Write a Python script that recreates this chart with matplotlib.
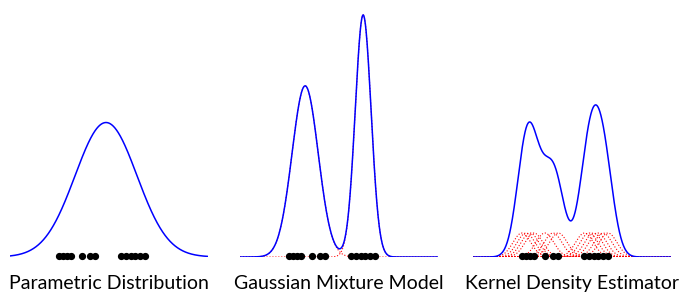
import numpy as np
import matplotlib
matplotlib.use("Agg")
import matplotlib.pyplot as plt

# sample positions (same data in all three panels)
samples = [2.47, 2.68, 2.88, 3.08, 3.63, 4.04, 4.31,
           5.63, 5.86, 6.09, 6.31, 6.57, 6.82]

# single normal fit (left panel)
norm_mean = 4.85
norm_sd = 1.56

# mixture components
gmm_means = [3.29, 6.22]
gmm_sigmas = [0.66, 0.40]
gmm_weights = [7 / 13, 6 / 13]

kde_bandwidth = 0.45
kernel_height = 0.0456   # drawn peak of each red kernel

titles = ["Parametric Distribution", "Gaussian Mixture Model", "Kernel Density Estimator"]


def gauss(x, mu, sd):
    return np.exp(-0.5 * ((x - mu) / sd) ** 2) / (sd * np.sqrt(2 * np.pi))


x = np.linspace(0, 10, 800)

fig = plt.figure(figsize=(6.81, 2.96), dpi=100)
plt.rcParams['font.family'] = ['Lato', 'DejaVu Sans']

lefts = [10, 240, 473]
axes = []
for left in lefts:
    ax = fig.add_axes([left / 681, 39 / 296, 198 / 681, 247 / 296])
    ax.set_xlim(0, 10)
    ax.set_ylim(0, 0.4697)
    ax.axis('off')
    axes.append(ax)

# Parametric
ax = axes[0]
ax.plot(x, gauss(x, norm_mean, norm_sd), color='blue', lw=1.1)

# Gaussian mixture
ax = axes[1]
total = np.zeros_like(x)
for mu, sd, w in zip(gmm_means, gmm_sigmas, gmm_weights):
    comp = w * gauss(x, mu, sd)
    total += comp
    ax.plot(x, comp, color='red', lw=0.8, ls=':')
ax.plot(x, total, color='blue', lw=1.1)

# Kernel density estimate
ax = axes[2]
kde = np.zeros_like(x)
peak = gauss(0, 0, kde_bandwidth) / len(samples)
for xi in samples:
    k = gauss(x, xi, kde_bandwidth) / len(samples)
    kde += k
    ax.plot(x, k * kernel_height / peak, color='red', lw=0.8, ls=':')
ax.plot(x, kde, color='blue', lw=1.1)

for ax, title in zip(axes, titles):
    ax.plot(samples, np.zeros(len(samples)) + 0.002, 'o', color='black',
            ms=4.2, clip_on=False, zorder=5)
    ax.text(0.5, -0.128, title, transform=ax.transAxes, ha='center', va='baseline',
            fontsize=14)

fig.savefig("out.png", dpi=100)
